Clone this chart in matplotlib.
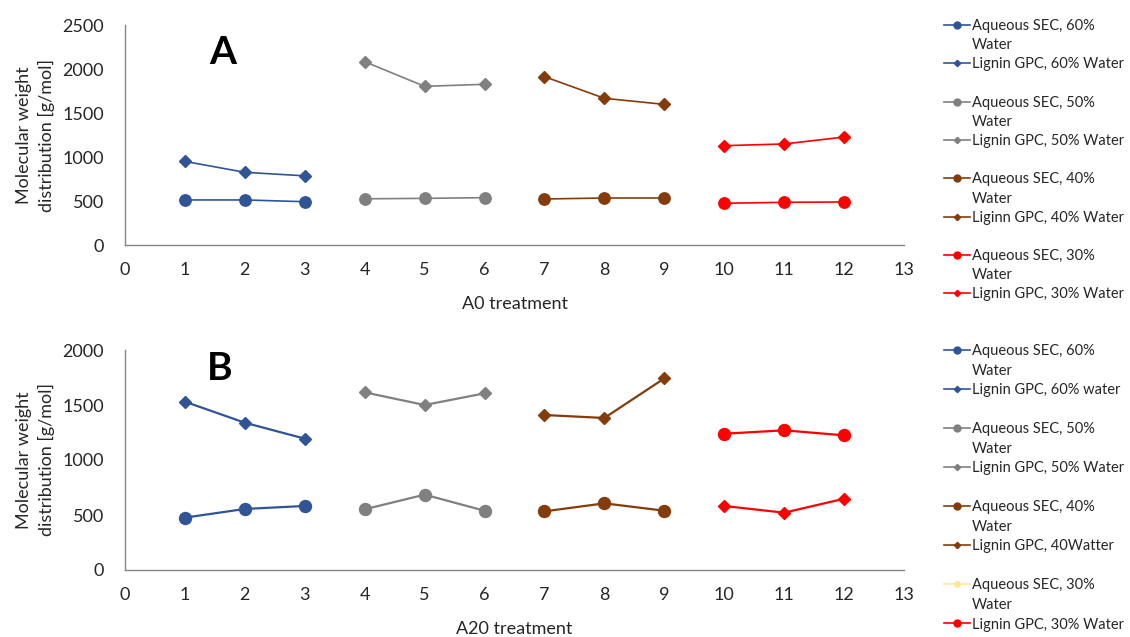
import numpy as np
import matplotlib
matplotlib.use('Agg')
import matplotlib.pyplot as plt
from matplotlib.lines import Line2D

plt.rcParams['font.family'] = ['Lato', 'DejaVu Sans']

# treatment numbers for each water content
x60 = [1, 2, 3]
x50 = [4, 5, 6]
x40 = [7, 8, 9]
x30 = [10, 11, 12]

# Panel A (A0 treatment) [g/mol]
a_sec60 = [512, 512, 492]
a_gpc60 = [950, 826, 786]
a_sec50 = [525, 530, 538]
a_gpc50 = [2083, 1803, 1826]
a_sec40 = [523, 534, 534]
a_gpc40 = [1913, 1667, 1598]
a_sec30 = [474, 485, 489]
a_gpc30 = [1129, 1148, 1227]

# Panel B (A20 treatment)
b_sec60 = [476, 555, 582]
b_gpc60 = [1530, 1339, 1194]
b_sec50 = [552, 685, 539]
b_gpc50 = [1615, 1500, 1606]
b_sec40 = [533, 606, 539]
b_gpc40 = [1409, 1382, 1742]
b_sec30 = [582, 521, 648]
b_gpc30 = [1239, 1270, 1224]

blue = '#2F5597'
grey = '#808080'
brown = '#843C0C'
red = '#FF0000'
pale = '#FFE699'

labels_a = ['Aqueous SEC, 60%', 'Water', 'Lignin GPC, 60% Water', ' ',
            'Aqueous SEC, 50%', 'Water', 'Lignin GPC, 50% Water', ' ',
            'Aqueous SEC, 40%', 'Water', 'Liginn GPC, 40% Water', ' ',
            'Aqueous SEC, 30%', 'Water', 'Lignin GPC, 30% Water']
labels_b = ['Aqueous SEC, 60%', 'Water', 'Lignin GPC, 60% water', ' ',
            'Aqueous SEC, 50%', 'Water', 'Lignin GPC, 50% Water', ' ',
            'Aqueous SEC, 40%', 'Water', 'Lignin GPC, 40Watter', ' ',
            'Aqueous SEC, 30%', 'Water', 'Lignin GPC, 30% Water']

txt = '#262626'
fig = plt.figure(figsize=(11.3, 6.37), dpi=100)
axA = fig.add_axes([125/1130, (637-245)/637, 779/1130, 220/637])
axB = fig.add_axes([125/1130, (637-570)/637, 779/1130, 220/637])


def blank():
    return Line2D([], [], linestyle='none')


def handle(c, m, ms):
    return Line2D([], [], color=c, marker=m, markersize=ms, lw=1.2)


def style(ax, ymax, xlabel, letter, lx, ly):
    ax.set_xlim(0, 13)
    ax.set_ylim(0, ymax)
    ax.set_xticks(np.arange(0, 14))
    ax.set_yticks(np.arange(0, ymax + 1, 500))
    for s in ['top', 'right']:
        ax.spines[s].set_visible(False)
    for s in ['left', 'bottom']:
        ax.spines[s].set_color('#868686')
        ax.spines[s].set_linewidth(1.0)
    ax.tick_params(length=0, labelsize=13, colors=txt)
    ax.tick_params(axis='x', pad=12)
    ax.tick_params(axis='y', pad=15)
    ax.set_xlabel(xlabel, fontsize=13, color=txt, labelpad=13)
    ax.set_ylabel('Molecular weight\ndistribution [g/mol]', fontsize=13, color=txt, linespacing=1.45)
    ax.yaxis.set_label_coords(-0.090, 0.5)
    ax.text(lx, ly, letter, transform=ax.transAxes, fontsize=28, fontweight='bold',
            ha='center', va='center', color='black')


# Panel A
axA.plot(x60, a_sec60, color=blue, marker='o', ms=8.2, lw=1.2)
axA.plot(x60, a_gpc60, color=blue, marker='D', ms=5.8, lw=1.2)
axA.plot(x50, a_sec50, color=grey, marker='o', ms=8.2, lw=1.2)
axA.plot(x50, a_gpc50, color=grey, marker='D', ms=5.8, lw=1.2)
axA.plot(x40, a_sec40, color=brown, marker='o', ms=8.2, lw=1.2)
axA.plot(x40, a_gpc40, color=brown, marker='D', ms=5.8, lw=1.2)
axA.plot(x30, a_sec30, color=red, marker='o', ms=8.2, lw=1.2)
axA.plot(x30, a_gpc30, color=red, marker='D', ms=5.8, lw=1.2)
style(axA, 2500, 'A0 treatment', 'A', 0.126, 0.877)

# Panel B
axB.plot(x60, b_sec60, color=blue, marker='o', ms=8.6, lw=1.6)
axB.plot(x60, b_gpc60, color=blue, marker='D', ms=6, lw=1.6)
axB.plot(x50, b_sec50, color=grey, marker='o', ms=8.6, lw=1.6)
axB.plot(x50, b_gpc50, color=grey, marker='D', ms=6, lw=1.6)
axB.plot(x40, b_sec40, color=brown, marker='o', ms=8.6, lw=1.6)
axB.plot(x40, b_gpc40, color=brown, marker='D', ms=6, lw=1.6)
axB.plot(x30, b_sec30, color=red, marker='D', ms=6, lw=1.6)
axB.plot(x30, b_gpc30, color=red, marker='o', ms=8.6, lw=1.6)
style(axB, 2000, 'A20 treatment', 'B', 0.122, 0.918)

# legends, Excel style with wrapped labels
hA = [handle(blue, 'o', 5), blank(), handle(blue, 'D', 3.2), blank(),
      handle(grey, 'o', 5), blank(), handle(grey, 'D', 3.2), blank(),
      handle(brown, 'o', 5), blank(), handle(brown, 'D', 3.2), blank(),
      handle(red, 'o', 5), blank(), handle(red, 'D', 3.2)]
hB = [handle(blue, 'o', 5), blank(), handle(blue, 'D', 3.2), blank(),
      handle(grey, 'o', 5), blank(), handle(grey, 'D', 3.2), blank(),
      handle(brown, 'o', 5), blank(), handle(brown, 'D', 3.2), blank(),
      handle(pale, 'o', 4), blank(), handle(red, 'o', 5)]

for ax, h, lab, ytop, sp in [(axA, hA, labels_a, 19, 0.355), (axB, hB, labels_b, 344, 0.38)]:
    leg = ax.legend(h, lab, loc='upper left', bbox_to_anchor=(944/1130, 1 - ytop/637),
                    bbox_transform=fig.transFigure, frameon=False, fontsize=10.5,
                    handlelength=1.75, handletextpad=0.15, labelspacing=sp,
                    borderpad=0, borderaxespad=0)
    for t in leg.get_texts():
        t.set_color(txt)

plt.savefig('out.png', dpi=100)
